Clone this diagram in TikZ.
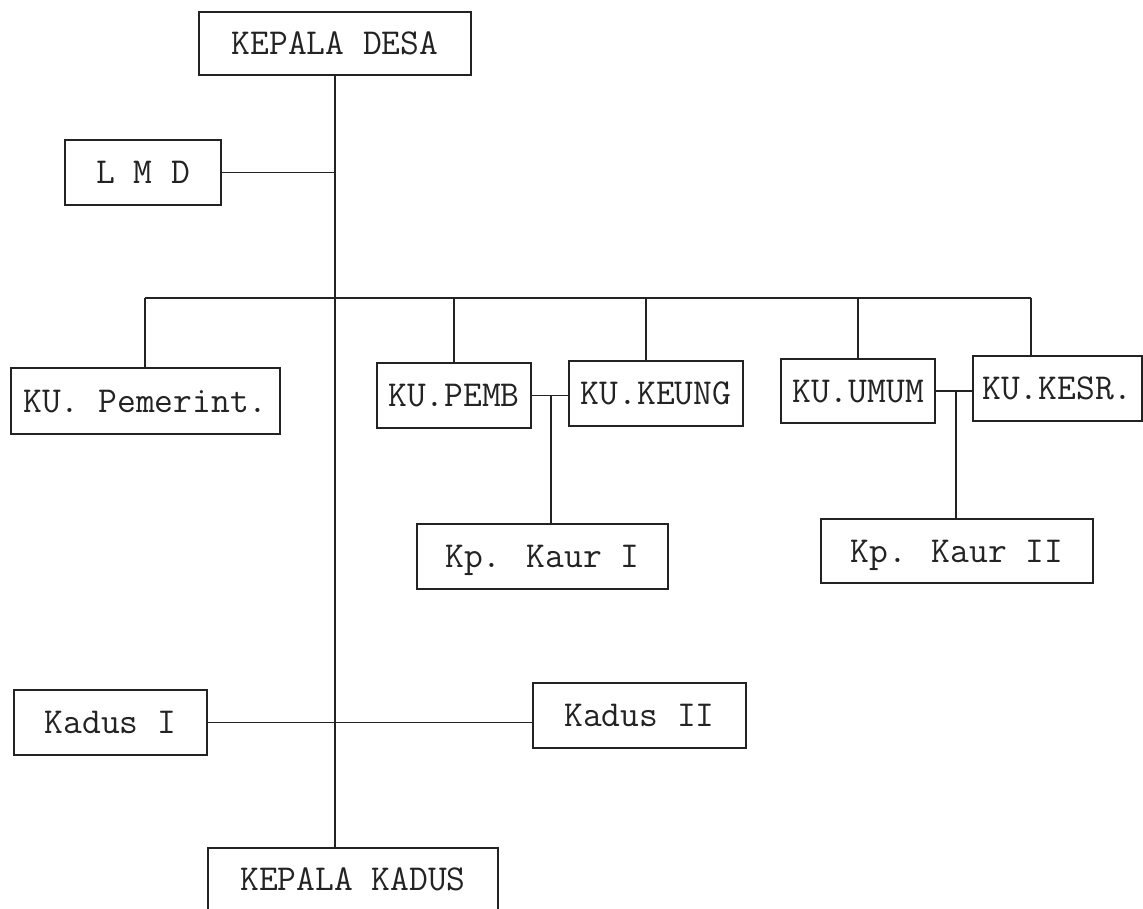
\documentclass[tikz,border=0pt]{standalone}
\usepackage{fontspec}
\definecolor{ink}{RGB}{35,35,35}
\tikzset{
  box/.style={draw=ink, line width=1.3pt, rectangle, inner sep=0pt,
    font=\ttfamily\fontsize{36.5}{42}\selectfont, text=ink,
    text height=22pt, text depth=0pt},
  link/.style={draw=ink, line width=1.2pt}
}
\begin{document}
\begin{tikzpicture}[x=1pt,y=-1pt]
\useasboundingbox (0,0) rectangle (1143,909);
% boxes
\node[box, minimum width=272pt, minimum height=63pt] (desa)   at (335,43.5)  {KEPALA DESA};
\node[box, minimum width=156pt, minimum height=65pt] (lmd)    at (143,172.5) {L M D};
\node[box, minimum width=269pt, minimum height=66pt] (pemer)  at (145.5,401) {KU. Pemerint.};
\node[box, minimum width=154pt, minimum height=65pt] (pemb)   at (454,395.5) {KU.PEMB};
\node[box, minimum width=174pt, minimum height=65pt] (keung)  at (656,393.5) {KU.KEUNG};
\node[box, minimum width=154pt, minimum height=64pt] (umum)   at (858,391)   {KU.UMUM};
\node[box, minimum width=169pt, minimum height=65pt] (kesr)   at (1057.5,388.5) {KU.KESR.};
\node[box, minimum width=251pt, minimum height=65pt] (kaur1)  at (542.5,556.5) {Kp. Kaur I};
\node[box, minimum width=272pt, minimum height=64pt] (kaur2)  at (957,551)   {Kp. Kaur II};
\node[box, minimum width=193pt, minimum height=65pt] (kadus1) at (110.5,722.5) {Kadus I};
\node[box, minimum width=213pt, minimum height=65pt] (kadus2) at (639.5,715.5) {Kadus II};
\node[box, minimum width=290pt, minimum height=63pt] (kkadus) at (353,879.5) {KEPALA KADUS};
% helper coordinates
\coordinate (busL) at (145,298);
\coordinate (busR) at (1031,298);
\coordinate (dpemb) at (454,298);
\coordinate (dkeung) at (646,298);
\coordinate (dumum) at (858,298);
\coordinate (j1) at (551,395.5);
\coordinate (j2) at (956,391);
% main trunk
\draw[link] (desa.south) -- (desa.south |- kkadus.north);
\draw[link] (lmd.east) -- (lmd.east -| desa.south);
% bus and drops
\draw[link] (busL) -- (busR);
\draw[link] (busL) -- (busL |- pemer.north);
\draw[link] (dpemb) -- (dpemb |- pemb.north);
\draw[link] (dkeung) -- (dkeung |- keung.north);
\draw[link] (dumum) -- (dumum |- umum.north);
\draw[link] (busR) -- (busR |- kesr.north);
% pairs
\draw[link] (pemb.east) -- (pemb.east -| keung.west);
\draw[link] (j1) -- (j1 |- kaur1.north);
\draw[link] (umum.east) -- (umum.east -| kesr.west);
\draw[link] (j2) -- (j2 |- kaur2.north);
% kadus
\draw[link] (kadus1.east) -- (kadus1.east -| kadus2.west);
\end{tikzpicture}
\end{document}
